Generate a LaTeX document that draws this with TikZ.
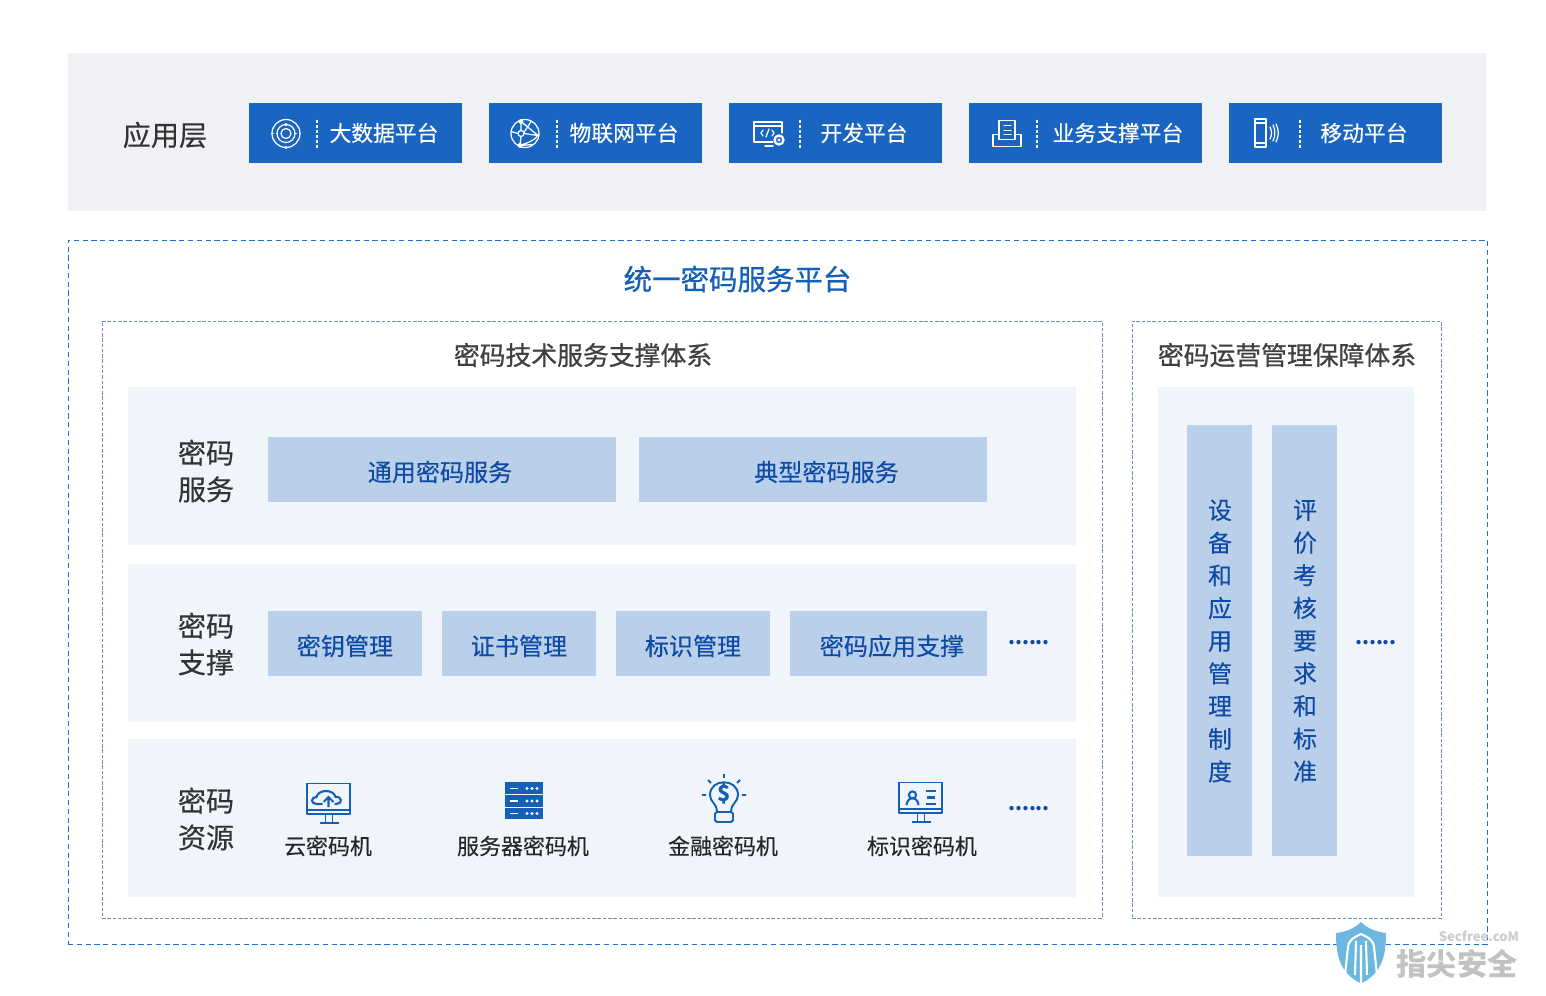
\documentclass[tikz,border=0pt]{standalone}
\usepackage{fontspec}
\setmainfont{Noto Sans CJK SC}
\newfontfamily\medfont[FakeBold=0.25]{Noto Sans CJK SC}
\newfontfamily\strongfont[FakeBold=0.7]{Noto Sans CJK SC}
\usetikzlibrary{positioning}

\definecolor{greyband}{HTML}{F0F1F4}
\definecolor{btnblue}{HTML}{1B65C2}
\definecolor{dashblue}{HTML}{1F6FCF}
\definecolor{dashgrey}{HTML}{6E8FB8}
\definecolor{paleband}{HTML}{F0F5FC}
\definecolor{lightbox}{HTML}{B9CFEA}
\definecolor{boxtext}{HTML}{0F4BA5}
\definecolor{icoblue}{HTML}{1460B8}
\definecolor{shield}{HTML}{6BB7E0}

\newcommand{\fs}[1]{\fontsize{#1}{#1}\selectfont}

\tikzset{
	boxsize/.style 2 args={minimum width=#1*0.02cm,minimum height=#2*0.02cm,inner sep=0pt,outer sep=0pt,anchor=north west},
	appbtn/.style={fill=btnblue},
	band/.style={fill=paleband},
	lightcell/.style={fill=lightbox},
	celltext/.style={text=boxtext,inner sep=0pt,font=\medfont\fs{13.7pt}},
	outerdash/.style={draw=dashblue,line width=0.5pt,dash pattern=on 3pt off 2pt},
	innerdash/.style={draw=dashgrey,line width=0.45pt,dash pattern=on 2pt off 1pt},
	btntext/.style={text=white,inner sep=0pt,font=\medfont\fs{12.4pt}},
	sideword/.style={text=black!80,align=center,inner sep=0pt,font=\medfont\fs{16pt}},
	heading/.style={text=black!75,inner sep=0pt,font=\strongfont\fs{14.7pt}},
	vertword/.style={text=boxtext,align=center,inner sep=0pt,font=\medfont\fontsize{13.6pt}{18.6pt}\selectfont},
	moredots/.style={text=boxtext,inner sep=0pt,font=\bfseries\fs{11.3pt}},
	devicetext/.style={text=black!85,inner sep=0pt,font=\medfont\fs{12.5pt}},
	sep/.style={draw=white,line width=0.6pt,dash pattern=on 1.7pt off 1.1pt},
	wico/.style={draw=white,line width=0.7pt,line cap=round,line join=round},
	bico/.style={draw=icoblue,line width=1.1pt,line join=round},
	icon_data/.pic={
		\draw[wico] (0,0) circle (14) (0,0) circle (9) (0,0) circle (5);
		\fill[white] (0,-9) circle (1.7) (0,14) circle (1.7);
		\draw[wico,dotted] (-14,0) -- (-9,0) (9,0) -- (14,0);
	},
	icon_iot/.pic={
		\draw[wico] (0,0) circle (14) (-4,0) circle (3);
		\fill[white] (-4,-12) circle (2.4) (-5,12) circle (2.4) (13,2) circle (1.5);
		\draw[wico] (-4,-12) -- (-4,-3) (-4,3) -- (-5,12) (-4,-12) -- (13,2) -- (-1,0) (-5,12) .. controls (3,9) and (8,8) .. (13,2) (-14,-2) -- (-7,0) (-1,-1) -- (6,-12) (-5,12) -- (8,11);
	},
	icon_dev/.pic={
		\draw[wico] (5,8) -- (-14,8) -- (-14,-12) -- (14,-12) -- (14,-1) (-14,-8) -- (14,-8) (-3,12) -- (5,12);
		\draw[wico] (-5,-4) -- (-7,-1) -- (-5,2) (4,-4) -- (6,-1) -- (4,2) (1,-5) -- (-2,3);
		\draw[wico,line width=1.3pt] (11,6) circle (4.5);
		\draw[wico] (11,6) circle (1);
	},
	icon_tray/.pic={
		\draw[wico] (-14,1) -- (-14,13) -- (14,13) -- (14,1) -- (8,1) -- (8,6) -- (-8,6) -- (-8,1) -- cycle;
		\draw[wico] (-8,1) -- (-8,-13) -- (8,-13) -- (8,1);
		\draw[wico] (-3,-8) -- (4,-8) (-3,-3) -- (4,-3) (-3,1) -- (4,1);
	},
	icon_phone/.pic={
		\draw[wico] (-13,-14) rectangle (-2,14) (-13,-10) -- (-2,-10) (-13,10) -- (-2,10);
		\draw[wico] (2,-6) .. controls (4,-2) and (4,2) .. (2,6) (5,-8) .. controls (7.5,-3) and (7.5,3) .. (5,8) (8,-9) .. controls (11,-3) and (11,3) .. (8,9);
	},
	icon_cloud/.pic={
		\draw[bico] (-21.5,-19.5) rectangle (21.5,11) (-21.5,7) -- (21.5,7) (-3,11) -- (-3,20) (4,11) -- (4,20);
		\draw[bico,line width=1.4pt] (-9,20) -- (10,20);
		\draw[icoblue,line width=1.2pt,line join=round] (-6,1) -- (-12,1) .. controls (-18,1) and (-18,-6) .. (-12,-6) .. controls (-10,-14) and (5,-14) .. (7,-6) .. controls (14,-7) and (14,1) .. (8,1) -- (6,1);
		\draw[icoblue,line width=1.2pt] (0,4) -- (0,-5) (-5,-1) -- (0,-6) -- (5,-1);
	},
	icon_server/.pic={
		\foreach \r in {-14,-1.5,11}{
			\fill[icoblue] (-19,\r-6) rectangle (19,\r+5.5);
			\draw[white,line width=0.8pt] (-14,\r) -- (-6,\r);
			\fill[white] (3,\r) circle (1.7) (8,\r) circle (1.7) (13,\r) circle (1.7);
		}
	},
	icon_bulb/.pic={
		\draw[bico] (-7,13) .. controls (-7,6) and (-14,4) .. (-14,-3) .. controls (-14,-20) and (14,-20) .. (14,-3) .. controls (14,4) and (7,6) .. (7,13);
		\draw[bico,rounded corners=1pt] (-9,14) rectangle (9,24);
		\draw[bico] (-22,-3) -- (-18,-3) (18,-3) -- (22,-3) (0,-24) -- (0,-20) (-16,-18) -- (-13,-15) (16,-18) -- (13,-15);
	},
	icon_idcard/.pic={
		\draw[bico] (-21.5,-19.5) rectangle (21.5,11) (-21.5,7) -- (21.5,7) (-3,11) -- (-3,20) (4,11) -- (4,20);
		\draw[bico,line width=1.4pt] (-9,20) -- (10,20);
		\draw[icoblue,line width=1.2pt] (-8,-7) circle (3.6) (-14,3) .. controls (-13,-6) and (-3,-6) .. (-2,3);
		\draw[icoblue,line width=1.2pt] (5,-11) -- (15,-11) (6,-4.5) -- (14,-4.5) (5,2) -- (15,2);
	},
}

\begin{document}
\begin{tikzpicture}[x=0.02cm,y=-0.02cm]
	\useasboundingbox[fill=white] (0,0) rectangle (1546,996);

	% application layer
	\node[boxsize={1418}{158},fill=greyband] (App_layer) at (68,53) {};
	\node[sideword] (App_name) at (165,135) {应用层};
	\node[boxsize={213}{60},appbtn] (Btn_1) at (249,103) {};
	\node[boxsize={213}{60},appbtn] (Btn_2) [right=0.54cm of Btn_1] {};
	\node[boxsize={213}{60},appbtn] (Btn_3) [right=0.54cm of Btn_2] {};
	\node[boxsize={233}{60},appbtn] (Btn_4) [right=0.54cm of Btn_3] {};
	\node[boxsize={213}{60},appbtn] (Btn_5) [right=0.54cm of Btn_4] {};
	\node[btntext] (Btn_text_1) at (384,133) {大数据平台};
	\node[btntext] (Btn_text_2) at (624,133) {物联网平台};
	\node[btntext] (Btn_text_3) at (864,133) {开发平台};
	\node[btntext] (Btn_text_4) at (1118,133) {业务支撑平台};
	\node[btntext] (Btn_text_5) at (1364,133) {移动平台};
	\draw[sep] (317,120) -- (317,148) (557,120) -- (557,148) (800,120) -- (800,148) (1037,120) -- (1037,148) (1300,120) -- (1300,148);
	\pic at (286,133.5) {icon_data};
	\pic at (525,133.5) {icon_iot};
	\pic at (768,134) {icon_dev};
	\pic at (1007,133.5) {icon_tray};
	\pic at (1268,133) {icon_phone};

	% platform frames
	\node[boxsize={1419}{704.5},outerdash] (Platform) at (68,240) {};
	\node[text=icoblue,inner sep=0pt,font=\strongfont\fs{16.2pt}] (Platform_name) at (737.5,279) {统一密码服务平台};
	\node[boxsize={1000}{597},innerdash] (Tech) at (102,321) {};
	\node[boxsize={309}{597},innerdash] (Oper) at (1132,321) {};
	\node[heading] (Tech_name) at (583,355) {密码技术服务支撑体系};
	\node[heading] (Oper_name) at (1287,355) {密码运营管理保障体系};

	% bands
	\node[boxsize={948}{158},band] (Band_1) at (128,387) {};
	\node[boxsize={948}{158},band] (Band_2) at (128,564) {};
	\node[boxsize={948}{158},band] (Band_3) at (128,739) {};
	\node[boxsize={256}{510},band] (Band_4) at (1158,387) {};
	\node[sideword] (Row_1) at (206,471) {密码\\[4.8pt]服务};
	\node[sideword] (Row_2) at (206,644) {密码\\[4.8pt]支撑};
	\node[sideword] (Row_3) at (206,819) {密码\\[4.8pt]资源};

	% service row
	\node[boxsize={348}{65},lightcell] (Srv_1) at (268,437) {};
	\node[boxsize={348}{65},lightcell] (Srv_2) [right=0.46cm of Srv_1] {};
	\node[celltext] (Srv_text_1) at (440,472) {通用密码服务};
	\node[celltext] (Srv_text_2) at (826.5,472) {典型密码服务};

	% support row
	\node[boxsize={154}{65},lightcell] (Sup_1) at (268,611) {};
	\node[boxsize={154}{65},lightcell] (Sup_2) [right=0.4cm of Sup_1] {};
	\node[boxsize={154}{65},lightcell] (Sup_3) [right=0.4cm of Sup_2] {};
	\node[boxsize={197}{65},lightcell] (Sup_4) [right=0.4cm of Sup_3] {};
	\node[celltext] (Sup_text_1) at (345,646) {密钥管理};
	\node[celltext] (Sup_text_2) at (519,646) {证书管理};
	\node[celltext] (Sup_text_3) at (693,646) {标识管理};
	\node[celltext] (Sup_text_4) at (892,646) {密码应用支撑};
	\node[moredots] (Dots_1) at (1029,643) {......};

	% device row
	\pic at (328.5,803) {icon_cloud};
	\pic at (524,802.5) {icon_server};
	\pic at (724,798) {icon_bulb};
	\pic at (920.5,802) {icon_idcard};
	\node[text=icoblue,inner sep=0pt,font=\bfseries\fs{12.5pt}] (Dollar) at (724,794) {\$};
	\node[devicetext] (Dev_1) at (328,846) {云密码机};
	\node[devicetext] (Dev_2) at (523,846) {服务器密码机};
	\node[devicetext] (Dev_3) at (723,846) {金融密码机};
	\node[devicetext] (Dev_4) at (922,846) {标识密码机};
	\node[moredots] (Dots_2) at (1029,809) {......};

	% management columns
	\node[boxsize={65}{431},fill=lightbox] (Col_1) at (1187,425) {};
	\node[boxsize={65}{431},fill=lightbox] (Col_2) [right=0.4cm of Col_1] {};
	\node[vertword] (Col_text_1) at (1220,641) {设\\备\\和\\应\\用\\管\\理\\制\\度};
	\node[vertword] (Col_text_2) at (1305,641) {评\\价\\考\\核\\要\\求\\和\\标\\准};
	\node[moredots] (Dots_3) at (1376,643) {......};

	% watermark
	\fill[shield] (1361,922) .. controls (1354,929) and (1345,932) .. (1336,933) .. controls (1336,958) and (1341,973) .. (1360,983) -- (1362,983) .. controls (1381,973) and (1386,958) .. (1386,933) .. controls (1377,932) and (1368,929) .. (1361,922) -- cycle;
	\draw[white,line width=1.2pt] (1345,975) -- (1348,947) .. controls (1349,939) and (1355,937) .. (1361,934) .. controls (1367,937) and (1373,939) .. (1374,947) -- (1377,975) (1355,975) -- (1356,941) (1367,975) -- (1366,941) (1361,983) -- (1361,945);
	\node[text=black!20,inner sep=0pt,font=\bfseries\fs{7.4pt}] (Mark_site) at (1479,936) {Secfree.coM};
	\node[text=black!24,inner sep=0pt,font=\bfseries\fs{17.2pt}] (Mark_name) at (1457,964) {指尖安全};
\end{tikzpicture}
\end{document}
